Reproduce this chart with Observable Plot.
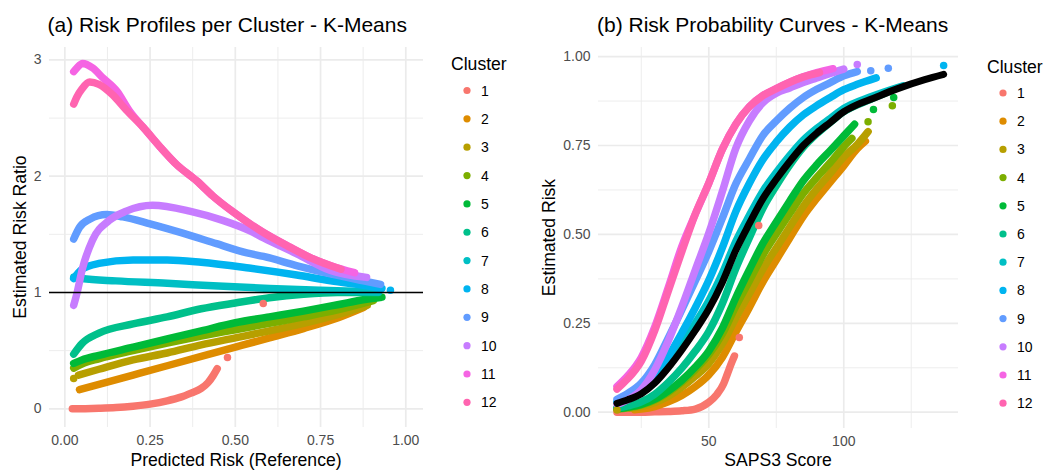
<!DOCTYPE html>
<html>
<head>
<meta charset="utf-8">
<script src="https://cdn.jsdelivr.net/npm/d3@7"></script>
<script src="https://cdn.jsdelivr.net/npm/@observablehq/plot@0.6"></script>
<style>
  html, body { margin: 0; padding: 0; background: #fff; }
  #page { position: relative; width: 1046px; height: 473px; overflow: hidden; background: #fff; }
  .panel { position: absolute; top: 0; }
</style>
</head>
<body>
<div id="page">
  <div id="panelA" class="panel" style="left:0px"></div>
  <div id="panelB" class="panel" style="left:530px"></div>
</div>
<script>
const FONT = "'Liberation Sans', Arial, Helvetica, sans-serif";

// Cluster labels and their hue palette
const clusters = ["1", "2", "3", "4", "5", "6", "7", "8", "9", "10", "11", "12"];
const clusterColors = ["#F8766D", "#DE8C00", "#B79F00", "#7CAE00", "#00BA38", "#00C08B",
                       "#00BFC4", "#00B4F0", "#619CFF", "#C77CFF", "#F564E3", "#FF64B0"];

// Axis ticks and grid positions
const ratioTicksX = [0, 0.25, 0.5, 0.75, 1];
const ratioMinorX = [0.125, 0.375, 0.625, 0.875];
const ratioTicksY = [0, 1, 2, 3];
const ratioMinorY = [0.5, 1.5, 2.5];
const riskTicksX = [50, 100];
const riskMinorX = [25, 75, 125];
const riskTicksY = [0, 0.25, 0.5, 0.75, 1];
const riskMinorY = [0.125, 0.375, 0.625, 0.875];

// (a) risk ratio vs reference predicted risk, [predicted risk, ratio]
const ratio1 = [[0.022,0.0],[0.06,0.001],[0.1,0.004],[0.15,0.01],[0.2,0.022],[0.25,0.04],[0.3,0.068],[0.34,0.10],[0.37,0.135],[0.40,0.175],[0.42,0.225],[0.435,0.285],[0.447,0.345]];
const ratio2 = [[0.043,0.165],[0.1,0.21],[0.2,0.29],[0.3,0.37],[0.4,0.45],[0.5,0.53],[0.6,0.61],[0.7,0.69],[0.8,0.78],[0.876,0.87]];
const ratio3 = [[0.04,0.29],[0.1,0.34],[0.2,0.42],[0.3,0.48],[0.4,0.55],[0.5,0.61],[0.6,0.67],[0.7,0.735],[0.8,0.81],[0.887,0.89]];
const ratio4 = [[0.026,0.35],[0.05,0.385],[0.1,0.43],[0.2,0.50],[0.3,0.565],[0.4,0.625],[0.5,0.68],[0.6,0.735],[0.7,0.79],[0.8,0.85],[0.905,0.93]];
const ratio5 = [[0.026,0.39],[0.05,0.42],[0.1,0.46],[0.2,0.53],[0.3,0.60],[0.4,0.67],[0.5,0.74],[0.6,0.79],[0.7,0.84],[0.8,0.895],[0.88,0.94],[0.93,0.96]];
const ratio6 = [[0.026,0.47],[0.05,0.56],[0.1,0.65],[0.2,0.73],[0.3,0.79],[0.4,0.86],[0.5,0.91],[0.6,0.955],[0.7,0.985],[0.8,1.0],[0.92,1.0]];
const ratio7 = [[0.026,1.13],[0.05,1.12],[0.15,1.10],[0.3,1.08],[0.45,1.055],[0.6,1.035],[0.75,1.02],[0.92,1.005]];
const ratio8 = [[0.026,1.12],[0.05,1.20],[0.1,1.25],[0.2,1.28],[0.3,1.28],[0.4,1.26],[0.54,1.21],[0.68,1.15],[0.78,1.10],[0.89,1.055],[0.93,1.035]];
const ratio9 = [[0.026,1.46],[0.043,1.56],[0.073,1.63],[0.123,1.67],[0.17,1.65],[0.25,1.59],[0.346,1.51],[0.445,1.42],[0.534,1.34],[0.583,1.31],[0.682,1.23],[0.779,1.16],[0.876,1.10],[0.926,1.07]];
const ratio10 = [[0.026,0.89],[0.034,0.975],[0.052,1.21],[0.081,1.45],[0.13,1.62],[0.18,1.70],[0.257,1.75],[0.366,1.70],[0.463,1.62],[0.543,1.53],[0.583,1.47],[0.682,1.33],[0.779,1.19],[0.885,1.13]];
const ratio11 = [[0.026,2.90],[0.035,2.93],[0.052,2.97],[0.082,2.93],[0.11,2.85],[0.153,2.73],[0.19,2.56],[0.23,2.42],[0.28,2.25],[0.328,2.10],[0.387,1.96],[0.434,1.83],[0.49,1.70],[0.58,1.52],[0.66,1.39],[0.72,1.30],[0.78,1.23],[0.85,1.17]];
const ratio12 = [[0.026,2.62],[0.035,2.68],[0.05,2.75],[0.073,2.81],[0.10,2.79],[0.14,2.70],[0.18,2.57],[0.23,2.42],[0.28,2.25],[0.328,2.10],[0.387,1.96],[0.434,1.83],[0.49,1.70],[0.58,1.52],[0.66,1.39],[0.72,1.30],[0.81,1.20]];
// isolated observations in (a): [cluster, predicted risk, ratio]
const ratioLoose = [["1",0.477,0.44],["1",0.582,0.905],["3",0.026,0.26],["8",0.955,1.02]];

// (b) estimated risk vs SAPS3 score, [score, risk]
const referenceCurve = [[16,0.025],[20,0.035],[25,0.052],[30,0.082],[35,0.125],[40,0.175],[45,0.23],[50,0.29],[55,0.365],[60,0.455],[65,0.53],[70,0.60],[75,0.655],[80,0.705],[85,0.75],[90,0.785],[95,0.815],[100,0.845],[105,0.865],[110,0.88],[120,0.91],[130,0.935],[137,0.95]];
const risk1 = [[16,0],[25,0],[30,0.001],[35,0.002],[40,0.004],[45,0.009],[50,0.028],[53,0.05],[55.5,0.08],[57,0.11],[58.5,0.14],[59.5,0.158]];
const risk2 = [[22.5,0.007],[25,0.009],[30,0.016],[35,0.029],[40,0.047],[45,0.072],[50,0.105],[55,0.154],[60,0.225],[65,0.294],[70,0.366],[75,0.428],[80,0.49],[85,0.551],[90,0.601],[95,0.647],[100,0.693],[105,0.741],[108,0.762]];
const risk3 = [[21,0.0116],[25,0.0156],[30,0.027],[35,0.045],[40,0.07],[45,0.101],[50,0.137],[55,0.192],[60,0.265],[65,0.333],[70,0.402],[75,0.462],[80,0.521],[85,0.579],[90,0.628],[95,0.672],[100,0.718],[105,0.753],[109,0.789]];
const risk4 = [[16,0.0088],[20,0.0127],[25,0.020],[30,0.034],[35,0.056],[40,0.0845],[45,0.12],[50,0.162],[55,0.22],[60,0.298],[65,0.369],[70,0.441],[75,0.501],[80,0.559],[85,0.615],[90,0.66],[95,0.702],[100,0.747],[103,0.77]];
const risk5 = [[16,0.0098],[20,0.014],[25,0.022],[30,0.0366],[35,0.06],[40,0.0897],[45,0.127],[50,0.172],[55,0.236],[60,0.322],[65,0.40],[70,0.474],[75,0.535],[80,0.594],[85,0.651],[90,0.696],[95,0.736],[100,0.777],[104,0.81]];
const risk6 = [[16,0.0116],[20,0.0177],[25,0.029],[30,0.0507],[35,0.084],[40,0.124],[45,0.172],[50,0.227],[55,0.305],[60,0.404],[65,0.49],[70,0.573],[75,0.637],[80,0.695],[85,0.745],[90,0.783],[95,0.815],[100,0.845],[110,0.88],[118,0.905]];
const risk7 = [[16,0.028],[20,0.039],[25,0.058],[30,0.091],[35,0.138],[40,0.192],[45,0.25],[50,0.313],[55,0.39],[60,0.48],[65,0.553],[70,0.621],[75,0.674],[80,0.722],[85,0.765],[90,0.798],[95,0.826],[100,0.854],[110,0.887],[122,0.918]];
const risk8 = [[16,0.028],[20,0.04],[25,0.0625],[30,0.101],[35,0.157],[40,0.223],[45,0.294],[50,0.371],[55,0.462],[60,0.564],[65,0.643],[70,0.71],[75,0.76],[80,0.802],[85,0.836],[90,0.862],[95,0.885],[100,0.907],[105,0.922],[112,0.94]];
const risk9 = [[16,0.036],[20,0.053],[25,0.082],[30,0.134],[35,0.209],[40,0.288],[45,0.369],[50,0.452],[55,0.545],[60,0.642],[65,0.712],[70,0.778],[75,0.819],[80,0.855],[85,0.885],[90,0.908],[95,0.927],[100,0.946],[105,0.958]];
const risk10 = [[16,0.022],[18,0.028],[20,0.035],[25,0.063],[30,0.119],[35,0.20],[40,0.296],[45,0.40],[50,0.503],[55,0.62],[60,0.742],[65,0.819],[70,0.87],[75,0.897],[80,0.912],[85,0.927],[90,0.94],[95,0.953],[100,0.965]];
const risk11 = [[16,0.0725],[20,0.1026],[25,0.154],[30,0.24],[35,0.351],[40,0.466],[45,0.557],[50,0.644],[55,0.739],[60,0.81],[65,0.859],[70,0.89],[75,0.91],[80,0.928],[85,0.943],[90,0.955],[96,0.966]];
const risk12 = [[16,0.065],[18,0.0795],[20,0.094],[25,0.1435],[30,0.23],[35,0.341],[40,0.4515],[45,0.557],[50,0.644],[55,0.739],[60,0.81],[65,0.859],[70,0.89],[75,0.91],[80,0.928],[85,0.943],[91,0.955]];
// isolated observations in (b): [cluster, score, risk]
const riskLoose = [["1",61.3,0.21],["1",68.5,0.525],["3",16,0.0065],["4",109,0.817],["4",118,0.862],["5",111,0.851],["5",118.5,0.885],["8",137,0.975],["9",110,0.96],["9",116.5,0.967],["10",105,0.978]];

const ratioSeries = [ratio1, ratio2, ratio3, ratio4, ratio5, ratio6, ratio7, ratio8, ratio9, ratio10, ratio11, ratio12];
const riskSeries = [risk1, risk2, risk3, risk4, risk5, risk6, risk7, risk8, risk9, risk10, risk11, risk12];

const toRows = (series) => series.flatMap((pts, i) => pts.map(([x, y]) => ({cluster: clusters[i], x, y})));
const looseRows = (list) => list.map(([cluster, x, y]) => ({cluster, x, y}));

const GRID = "#EBEBEB";
const DOT_R = 3.75;
const RIBBON = 7.5;

const baseStyle = {fontFamily: FONT, fontSize: "14px", color: "#4D4D4D", background: "transparent", overflow: "visible"};
const colorScale = {domain: clusters, range: clusterColors};

function gridMarks(minorX, minorY, majorX, majorY) {
  return [
    Plot.gridX(minorX, {stroke: GRID, strokeOpacity: 1, strokeWidth: 0.9}),
    Plot.gridY(minorY, {stroke: GRID, strokeOpacity: 1, strokeWidth: 0.9}),
    Plot.gridX(majorX, {stroke: GRID, strokeOpacity: 1, strokeWidth: 1.7}),
    Plot.gridY(majorY, {stroke: GRID, strokeOpacity: 1, strokeWidth: 1.7})
  ];
}

const lineOpts = {x: "x", y: "y", z: "cluster", stroke: "cluster", strokeWidth: RIBBON,
                  strokeLinecap: "round", strokeLinejoin: "round", curve: "monotone-x"};

// Panel (a): risk ratio profiles
const chartA = Plot.plot({
  width: 440, height: 473,
  marginLeft: 49, marginRight: 17, marginTop: 47, marginBottom: 46,
  style: baseStyle,
  x: {domain: [-0.045, 1.052]},
  y: {domain: [-0.161, 3.107]},
  color: colorScale,
  marks: [
    ...gridMarks(ratioMinorX, ratioMinorY, ratioTicksX, ratioTicksY),
    Plot.line(toRows(ratioSeries), lineOpts),
    Plot.dot(looseRows(ratioLoose), {x: "x", y: "y", fill: "cluster", r: DOT_R}),
    Plot.ruleY([1], {stroke: "#000", strokeWidth: 1.7}),
    Plot.axisX(ratioTicksX, {tickSize: 0, tickPadding: 8, tickFormat: d3.format(".2f"), label: null}),
    Plot.axisY(ratioTicksY, {tickSize: 0, tickPadding: 8, tickFormat: d3.format("d"), label: null})
  ]
});
document.getElementById("panelA").append(chartA);

// Panel (b): estimated risk curves with the reference curve on top
const chartB = Plot.plot({
  width: 450, height: 473,
  marginLeft: 68, marginRight: 22, marginTop: 47, marginBottom: 45,
  style: baseStyle,
  x: {domain: [9.15, 142.5]},
  y: {domain: [-0.0458, 1.0256]},
  color: colorScale,
  marks: [
    ...gridMarks(riskMinorX, riskMinorY, riskTicksX, riskTicksY),
    Plot.line(toRows(riskSeries), lineOpts),
    Plot.dot(looseRows(riskLoose), {x: "x", y: "y", fill: "cluster", r: DOT_R}),
    Plot.line(referenceCurve, {x: d => d[0], y: d => d[1], stroke: "#000", strokeWidth: 7,
                               strokeLinecap: "round", strokeLinejoin: "round", curve: "monotone-x"}),
    Plot.axisX(riskTicksX, {tickSize: 0, tickPadding: 8, tickFormat: d3.format("d"), label: null}),
    Plot.axisY(riskTicksY, {tickSize: 0, tickPadding: 8, tickFormat: d3.format(".2f"), label: null})
  ]
});
document.getElementById("panelB").append(chartB);

// Titles, axis titles and legends
const overlay = d3.select("#page").append("svg")
  .attr("width", 1046).attr("height", 473)
  .style("position", "absolute").style("left", 0).style("top", 0)
  .style("pointer-events", "none")
  .attr("font-family", FONT);

const texts = [
  {x: 47.5, y: 32, size: 21, text: "(a) Risk Profiles per Cluster - K-Means"},
  {x: 597, y: 32, size: 21, text: "(b) Risk Probability Curves - K-Means"},
  {x: 236, y: 466, size: 17.6, text: "Predicted Risk (Reference)", anchor: "middle"},
  {x: 778, y: 466, size: 17.6, text: "SAPS3 Score", anchor: "middle"}
];
for (const t of texts) {
  overlay.append("text").attr("x", t.x).attr("y", t.y).attr("font-size", t.size)
    .attr("fill", "#000").attr("text-anchor", t.anchor || "start").text(t.text);
}
const yTitles = [
  {x: 26, y: 237, text: "Estimated Risk Ratio"},
  {x: 555, y: 237.5, text: "Estimated Risk"}
];
for (const t of yTitles) {
  overlay.append("text").attr("transform", `translate(${t.x},${t.y}) rotate(-90)`)
    .attr("font-size", 17.6).attr("fill", "#000").attr("text-anchor", "middle").text(t.text);
}

function legend(x0, titleBaseline, firstY, step) {
  const g = overlay.append("g");
  g.append("text").attr("x", x0).attr("y", titleBaseline).attr("font-size", 17.6)
    .attr("fill", "#000").text("Cluster");
  clusters.forEach((c, i) => {
    const cy = firstY + i * step;
    g.append("circle").attr("cx", x0 + 16).attr("cy", cy).attr("r", 3.6).attr("fill", clusterColors[i]);
    g.append("text").attr("x", x0 + 30).attr("y", cy).attr("dy", "0.36em")
      .attr("font-size", 14).attr("fill", "#000").text(c);
  });
}
legend(451, 69.5, 90.5, 28.35);
legend(987, 72.5, 93, 28.2);
</script>
</body>
</html>
